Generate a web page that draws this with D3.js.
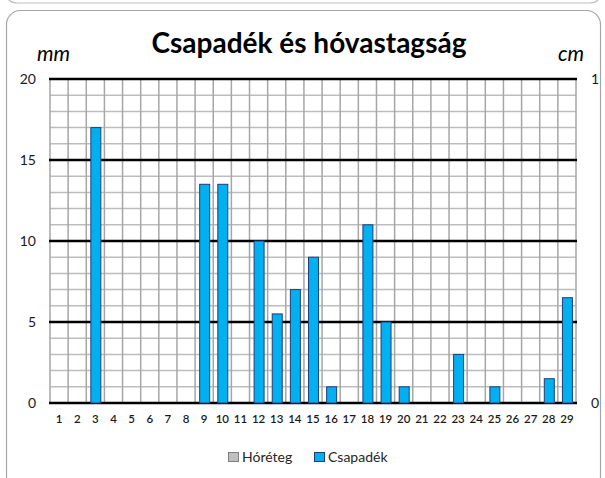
<!DOCTYPE html>
<html>
<head>
<meta charset="utf-8">
<script src="https://cdn.jsdelivr.net/npm/d3@7"></script>
<style>
  body { margin: 0; background: #fff; }
  svg text { font-family: Lato, "Open Sans", sans-serif; }
</style>
</head>
<body>
<div id="chart"></div>
<script>
// Napok (1-29)
const days = d3.range(1, 30).map(String);
// Csapadék, mm
const csapadek = [0, 0, 17, 0, 0, 0, 0, 0, 13.5, 13.5, 0, 10, 5.5, 7, 9, 1, 0, 11, 5, 1, 0, 0, 3, 0, 1, 0, 0, 1.5, 6.5];
// Hóréteg, cm (másodlagos tengely)
const horeteg = days.map(() => 0);
const leftTicks = [0, 5, 10, 15, 20];
const rightTicks = [0, 1];

const W = 605, H = 478;
const margin = { top: 79, right: 29, bottom: 75, left: 50 };

const svg = d3.select("#chart").append("svg")
  .attr("width", W).attr("height", H);

// Keret
svg.append("path")
  .attr("d", "M6.5,-20 L6.5,-8 Q6.5,3 17.5,3 L589.5,3 Q600.5,3 600.5,-8 L600.5,-20")
  .attr("fill", "none").attr("stroke", "#bfbfbf").attr("stroke-width", 1.2);
svg.append("rect")
  .attr("x", 6.5).attr("y", 10.5).attr("width", 594).attr("height", 480)
  .attr("rx", 14).attr("fill", "#fff").attr("stroke", "#a6a6a6").attr("stroke-width", 1.2);

const x = d3.scaleBand().domain(days).range([margin.left, W - margin.right]);
const y = d3.scaleLinear().domain([0, 20]).range([H - margin.bottom, margin.top]);
const y2 = d3.scaleLinear().domain([0, 1]).range([H - margin.bottom, margin.top]);

// Kisrács vízszintes
svg.append("g").selectAll("line")
  .data(d3.range(1, 20).filter(v => v % 5))
  .enter().append("line")
  .attr("x1", x.range()[0]).attr("x2", x.range()[1])
  .attr("y1", d => y(d)).attr("y2", d => y(d))
  .attr("stroke", "#bdbdbd").attr("stroke-width", 1.5);

// Függőleges rács
svg.append("g").selectAll("line")
  .data(d3.range(0, days.length + 1))
  .enter().append("line")
  .attr("x1", i => x.range()[0] + i * x.step())
  .attr("x2", i => x.range()[0] + i * x.step())
  .attr("y1", y(0)).attr("y2", y(20))
  .attr("stroke", "#a6a6a6").attr("stroke-width", 1.5);

// Fő rács
svg.append("g").selectAll("line")
  .data(leftTicks)
  .enter().append("line")
  .attr("x1", x.range()[0] - 1).attr("x2", x.range()[1] + 1)
  .attr("y1", d => y(d)).attr("y2", d => y(d))
  .attr("stroke", "#000").attr("stroke-width", 2.5);

// Oszlopok
const bw = 10;
svg.append("g").selectAll("rect")
  .data(days.map((d, i) => ({ day: d, value: csapadek[i] })).filter(d => d.value > 0))
  .enter().append("rect")
  .attr("x", d => x(d.day) + x.bandwidth() / 2 - bw / 2 + 0.5)
  .attr("y", d => y(d.value))
  .attr("width", bw)
  .attr("height", d => y(0) - y(d.value))
  .attr("fill", "#00b0f0").attr("stroke", "#1f3f78").attr("stroke-width", 1);

svg.append("g").selectAll("rect")
  .data(days.map((d, i) => ({ day: d, value: horeteg[i] })).filter(d => d.value > 0))
  .enter().append("rect")
  .attr("x", d => x(d.day) + x.bandwidth() / 2 - bw / 2)
  .attr("y", d => y2(d.value))
  .attr("width", bw)
  .attr("height", d => y2(0) - y2(d.value))
  .attr("fill", "#bfbfbf").attr("stroke", "#7f7f7f");

// Tengelyek
const axL = svg.append("g")
  .attr("transform", `translate(${margin.left},0)`)
  .call(d3.axisLeft(y).tickValues(leftTicks).tickSize(0).tickPadding(14));
const axR = svg.append("g")
  .attr("transform", `translate(${W - margin.right},0)`)
  .call(d3.axisRight(y2).tickValues(rightTicks).tickFormat(d3.format("d")).tickSize(0).tickPadding(15));
const axB = svg.append("g")
  .attr("transform", `translate(0,${y(0)})`)
  .call(d3.axisBottom(x).tickSize(0).tickPadding(12));
[axL, axR, axB].forEach(a => {
  a.select(".domain").remove();
  a.selectAll("text").attr("fill", "#1a1a1a")
    .style("font-family", "Lato, sans-serif");
});
axL.selectAll("text").attr("font-size", 14);
axR.selectAll("text").attr("font-size", 14);
axB.selectAll("text").attr("font-size", 11.5).attr("font-weight", 600);

// Cím
svg.append("text")
  .attr("x", 309).attr("y", 53)
  .attr("text-anchor", "middle")
  .attr("font-size", 28).attr("font-weight", "bold").attr("fill", "#000")
  .text("Csapadék és hóvastagság");

svg.append("text").attr("x", 37).attr("y", 61)
  .attr("font-size", 21).attr("font-style", "italic").attr("fill", "#000").text("mm");
svg.append("text").attr("x", 558).attr("y", 61)
  .attr("font-size", 21).attr("font-style", "italic").attr("fill", "#000").text("cm");

// Jelmagyarázat
const legend = [
  { name: "Hóréteg", fill: "#bfbfbf", stroke: "#7f7f7f", x: 228 },
  { name: "Csapadék", fill: "#00b0f0", stroke: "#1f3f78", x: 314 }
];
const lg = svg.append("g").selectAll("g").data(legend).enter().append("g")
  .attr("transform", d => `translate(${d.x},452)`);
lg.append("rect").attr("x", 0.5).attr("y", 0.5).attr("width", 10).attr("height", 9)
  .attr("fill", d => d.fill).attr("stroke", d => d.stroke);
lg.append("text").attr("x", 14).attr("y", 10)
  .attr("font-size", 14).attr("fill", "#262626").text(d => d.name);
</script>
</body>
</html>
